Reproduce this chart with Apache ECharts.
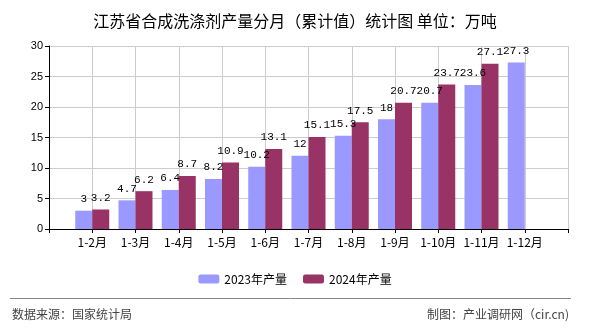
<!DOCTYPE html>
<html><head><meta charset="utf-8">
<script src="https://cdn.jsdelivr.net/npm/echarts@6/dist/echarts.min.js"></script>
<style>html,body{margin:0;padding:0;background:#fff}#c{width:590px;height:330px}</style>
</head><body><div id="c"></div>
<script>
var categories = ['', '1-2月', '1-3月', '1-4月', '1-5月', '1-6月', '1-7月', '1-8月', '1-9月', '1-10月', '1-11月', '1-12月', ''];
var series2023 = ['-', 3, 4.7, 6.4, 8.2, 10.2, 12, 15.3, 18, 20.7, 23.6, 27.3, '-'];
var series2024 = ['-', 3.2, 6.2, 8.7, 10.9, 13.1, 15.1, 17.5, 20.7, 23.7, 27.1, '-', '-'];
var yTicks = {min: 0, max: 30, interval: 5};
var titleText = '江苏省合成洗涤剂产量分月（累计值）统计图 单位：万吨';
var legendNames = ['2023年产量', '2024年产量'];
var sourceText = '数据来源：国家统计局';
var makerText = '制图：产业调研网（cir.cn)';

var chart = echarts.init(document.getElementById('c'));
var labelStyle = {show: true, position: 'top', distance: 6, color: '#000', fontSize: 11, fontFamily: 'Liberation Mono, monospace'};
chart.setOption({
  animation: false,
  backgroundColor: '#fff',
  title: {text: titleText, left: 'center', top: 8, textStyle: {fontSize: 16, fontWeight: 'normal', color: '#000', fontFamily: 'Noto Sans CJK SC'}},
  legend: {data: legendNames, top: 268, left: 'center', itemWidth: 21, itemHeight: 9, itemGap: 16,
    textStyle: {fontSize: 12, color: '#000', fontFamily: 'Noto Sans CJK SC'}},
  grid: {left: 49, right: 22, top: 46, bottom: 101},
  xAxis: {type: 'category', data: categories, boundaryGap: false,
    axisLine: {lineStyle: {color: '#000'}}, axisTick: {lineStyle: {color: '#000'}, length: 4},
    axisLabel: {color: '#000', fontSize: 12, fontFamily: 'Noto Sans CJK SC', interval: 0, margin: 7},
    splitLine: {show: true, lineStyle: {color: '#ccc'}}},
  yAxis: {type: 'value', min: yTicks.min, max: yTicks.max, interval: yTicks.interval,
    axisLine: {show: true, lineStyle: {color: '#000'}}, axisTick: {show: true, lineStyle: {color: '#000'}, length: 4},
    axisLabel: {color: '#000', fontSize: 11, fontFamily: 'Liberation Sans', margin: 6},
    splitLine: {lineStyle: {color: '#ccc'}}},
  series: [
    {name: legendNames[0], type: 'bar', data: series2023, barWidth: 17, barGap: '0%', itemStyle: {color: '#9999FF'}, label: labelStyle},
    {name: legendNames[1], type: 'bar', data: series2024, barWidth: 17, barGap: '0%', itemStyle: {color: '#993366'}, label: labelStyle}
  ],
  graphic: [
    {type: 'line', shape: {x1: 10, y1: 298.5, x2: 571, y2: 298.5}, style: {stroke: '#888', lineWidth: 1}},
    {type: 'text', left: 12, top: 308, style: {text: sourceText, fontSize: 12, fill: '#444', fontFamily: 'Noto Sans CJK SC'}},
    {type: 'text', right: 21, top: 308, style: {text: makerText, fontSize: 12, fill: '#444', fontFamily: 'Noto Sans CJK SC'}}
  ]
});
</script></body></html>
